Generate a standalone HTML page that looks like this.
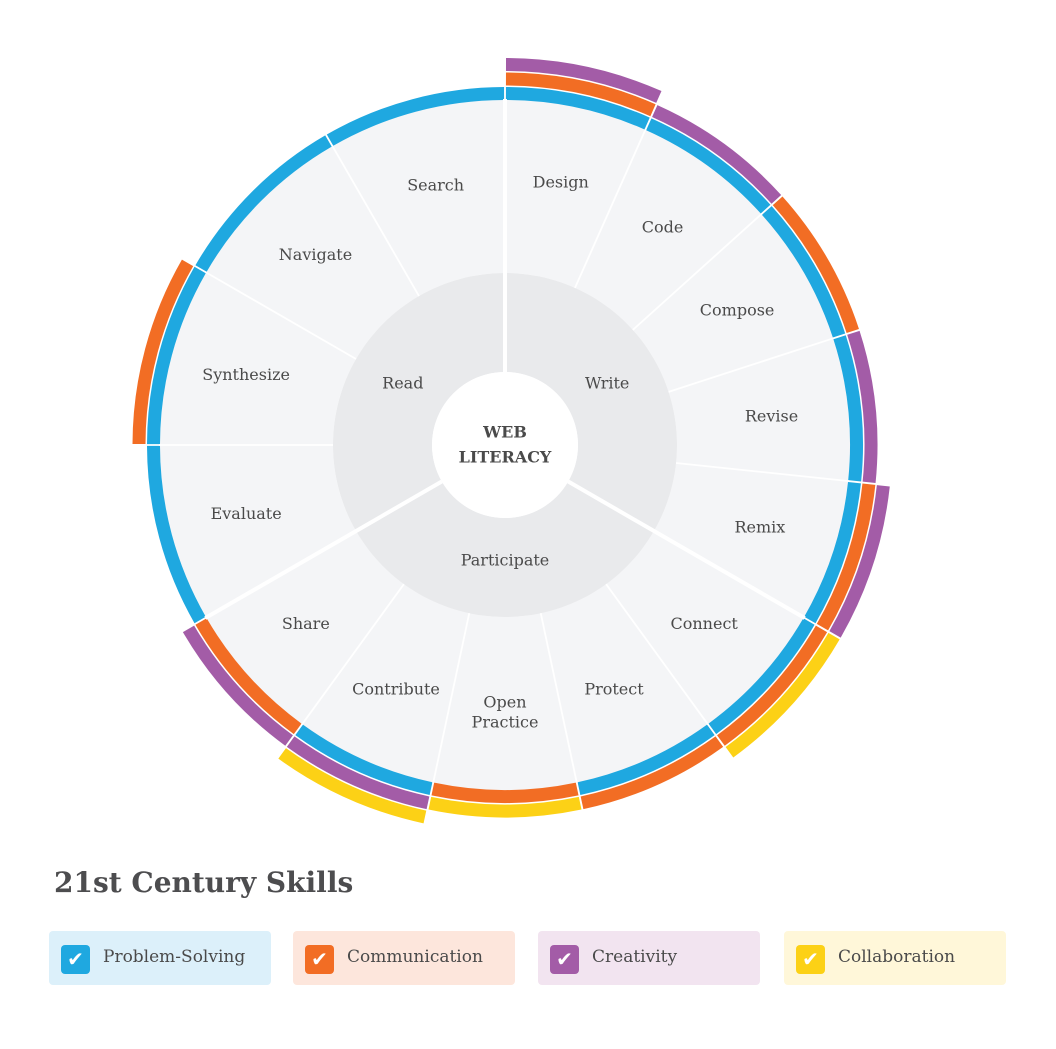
<!DOCTYPE html>
<html><head><meta charset="utf-8"><style>
body{margin:0;background:#fff;width:1056px;height:1049px;overflow:hidden;font-family:"DejaVu Serif","Liberation Serif",serif;}
svg{position:absolute;left:0;top:0}
.t{font-size:16px;fill:#4a4a4a;text-anchor:middle;dominant-baseline:middle}
.title{position:absolute;left:54px;top:866px;font-size:28px;font-weight:bold;color:#4d4d4f}
.lg{position:absolute;top:931px;height:54px;width:222px;border-radius:4px}
.lg .ck{position:absolute;left:12px;top:14px;width:29px;height:29px;border-radius:4px;color:#fff;font-size:20px;font-weight:bold;text-align:center;line-height:29px;font-family:"DejaVu Sans",sans-serif}
.lg .lt{position:absolute;left:54px;top:16px;font-size:17px;color:#4a4a4a}
</style></head><body>
<svg id="chart" width="1056" height="1049"></svg>
<div class="title">21st Century Skills</div>
<div class="lg" style="left:49px;background:#dcf0fa"><div class="ck" style="background:#1fa8e0">✔</div><div class="lt">Problem-Solving</div></div>
<div class="lg" style="left:293px;background:#fde6dc"><div class="ck" style="background:#f26d24">✔</div><div class="lt">Communication</div></div>
<div class="lg" style="left:538px;background:#f2e4f0"><div class="ck" style="background:#a35ca7">✔</div><div class="lt">Creativity</div></div>
<div class="lg" style="left:784px;background:#fff7d9"><div class="ck" style="background:#fcd116">✔</div><div class="lt">Collaboration</div></div>
<script>
const skills=["Design","Code","Compose","Revise","Remix","Connect","Protect","Open Practice","Contribute","Share","Evaluate","Synthesize","Navigate","Search"];
const spans=[24,24,24,24,24,24,24,24,24,24,30,30,30,30];
const rings=[["b","o","p"],["b","p"],["b","o"],["b","p"],["b","o","p"],["b","o","y"],["b","o"],["o","y"],["b","p","y"],["o","p"],["b"],["b","o"],["b"],["b"]];
const groups=["Write","Participate","Read"];
const groupSpans=[120,120,120];
const colors={b:"#1fa8e0",o:"#f26d24",p:"#a35ca7",y:"#fcd116"};
const svg=document.getElementById('chart');const NS="http://www.w3.org/2000/svg";
const cx=505,cy=445;
function pt(r,a){const t=a*Math.PI/180;return [cx+r*Math.sin(t),cy-r*Math.cos(t)];}
function arc(r0,r1,a0,a1){const p1=pt(r1,a0),p2=pt(r1,a1),p3=pt(r0,a1),p4=pt(r0,a0);const l=(a1-a0)>180?1:0;
return `M${p1}A${r1},${r1} 0 ${l} 1 ${p2}L${p3}A${r0},${r0} 0 ${l} 0 ${p4}Z`;}
function mk(tag,attrs){const e=document.createElementNS(NS,tag);for(const k in attrs)e.setAttribute(k,attrs[k]);svg.appendChild(e);return e;}
let a=0;
skills.forEach((s,i)=>{const a0=a,a1=a+spans[i];
 const w=mk('path',{d:arc(172,345,a0,a1),fill:"#f4f5f7"});
 
 
 rings[i].forEach((c,k)=>{const r0=345+k*14.5;const g=mk('path',{d:arc(r0,r0+13,a0+0.15,a1-0.15),fill:colors[c]});
  
  });
 a=a1;});
a=0;
groups.forEach((g,i)=>{const a0=a,a1=a+groupSpans[i];
 const p=mk('path',{d:arc(73,172,a0,a1),fill:"#e9eaec"});
 
 
 a=a1;});
// thin separators
a=0;skills.forEach((s,i)=>{const p1=pt(172,a),p2=pt(346,a);const l=mk('line',{x1:p1[0],y1:p1[1],x2:p2[0],y2:p2[1],stroke:"#fff","stroke-width":1.8});
 
 
 a+=spans[i];});
a=0;groupSpans.forEach(gs=>{const p1=pt(73,a),p2=pt(346,a);const l=mk('line',{x1:p1[0],y1:p1[1],x2:p2[0],y2:p2[1],stroke:"#fff","stroke-width":4});
 
 
 a+=gs;});
const c=mk('circle',{cx:cx,cy:cy,r:73,fill:"#fff"});


// labels
a=0;skills.forEach((s,i)=>{const m=a+spans[i]/2;const p=pt(268,m);const parts=s==="Open Practice"?["Open","Practice"]:[s];
 parts.forEach((tx,k)=>{const t=mk('text',{x:p[0],y:p[1]+(k-(parts.length-1)/2)*20,class:"t"});t.textContent=tx;
 
 });
 a+=spans[i];});
a=0;groups.forEach((g,i)=>{const p=pt(118,a+groupSpans[i]/2);const t=mk('text',{x:p[0],y:p[1]-2,class:"t"});t.textContent=g;
 
 
 a+=groupSpans[i];});
["WEB","LITERACY"].forEach((tx,k)=>{const t=mk('text',{x:cx,y:cy-12+k*25,class:"t","font-weight":"bold","font-size":"19"});t.textContent=tx;
 
 });
</script>
</body></html>
